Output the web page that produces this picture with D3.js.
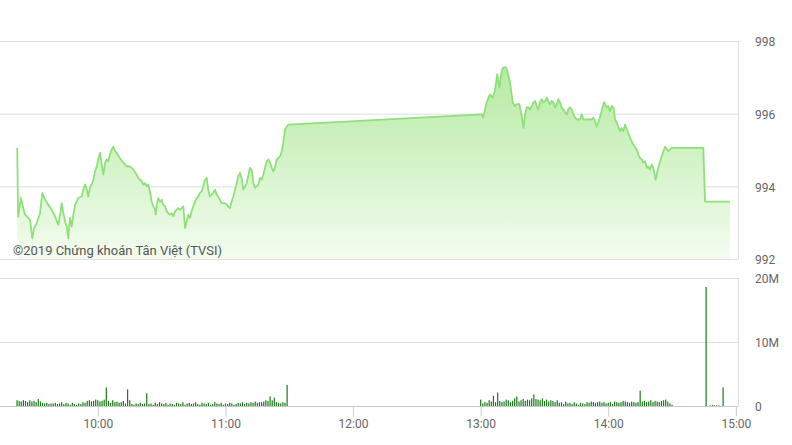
<!DOCTYPE html>
<html>
<head>
<meta charset="utf-8">
<script src="https://cdn.jsdelivr.net/npm/d3@7"></script>
<style>
  body { margin: 0; background: #fff; }
  text { font-family: Roboto, "Noto Sans", sans-serif; }
</style>
</head>
<body>
<div id="chart"></div>
<script>
// minutes after 09:00 for each price point
var priceMin = [22.1, 22.5, 23.9, 24.7, 25.8, 27.3, 28.1, 29.2, 30.0, 31.3, 32.8, 33.9, 35.2, 36.7, 38.3, 39.9,
  41.4, 42.5, 43.0, 43.8, 44.6, 45.4, 46.1, 46.9, 47.7, 48.5, 49.3, 50.1, 50.8, 52.4, 53.2, 54.0, 54.8, 55.5,
  56.3, 57.1, 57.9, 58.7, 59.5, 60.2, 61.0, 61.8, 62.6, 63.4, 64.2, 64.9, 65.7, 66.5, 67.3, 68.1, 68.9, 70.4,
  72.0, 73.6, 75.1, 76.7, 78.3, 79.0, 79.8, 80.6, 81.4, 82.2, 83.0, 83.7, 84.5, 85.3, 86.1, 86.9, 87.2, 87.7,
  88.4, 89.2, 90.0, 90.8, 91.6, 92.4, 93.1, 93.9, 94.7, 95.5, 96.3, 97.1, 97.8, 98.6, 99.4, 100.2, 101.0,
  101.8, 102.5, 103.3, 104.1, 104.9, 105.7, 106.5, 107.2, 108.0, 108.8, 109.6, 110.4, 111.2, 111.9, 112.7,
  113.5, 114.3, 115.1, 115.9, 116.6, 117.4, 118.2, 119.8, 120.6, 121.3, 122.1, 122.9, 123.7, 124.5, 125.3,
  126.1, 126.8, 127.6, 128.4, 129.2, 130.0, 130.7, 131.5, 132.3, 133.1, 133.9, 134.7, 135.5, 136.2, 137.0,
  137.8, 138.6, 139.4, 140.2, 141.0, 141.8, 142.5, 143.3, 144.1, 144.9, 145.7, 146.5, 147.2, 148.0, 149.6,
  240.5, 241.2, 242.8, 244.4, 245.7, 246.7, 247.8, 248.8, 249.9, 250.6, 251.9, 252.5, 253.8, 255.1, 256.1,
  256.9, 258.2, 259.3, 260.1, 260.9, 261.6, 262.4, 263.2, 264.0, 264.8, 265.6, 266.4, 267.1, 267.9, 268.7,
  269.5, 270.3, 271.1, 271.8, 272.6, 273.4, 274.2, 275.0, 275.8, 276.5, 277.3, 278.1, 278.9, 279.7, 280.5,
  281.2, 282.0, 282.8, 283.6, 284.4, 285.2, 286.7, 287.5, 288.3, 290.6, 292.2, 293.0, 293.8, 294.6, 296.1,
  297.1, 298.0, 299.3, 300.0, 300.8, 301.6, 302.4, 303.2, 304.0, 305.5, 306.3, 307.1, 307.9, 308.7, 310.2,
  311.8, 313.4, 314.1, 314.9, 315.7, 316.5, 317.3, 318.1, 318.8, 319.6, 320.4, 321.2, 322.3, 323.5, 325.1,
  326.7, 328.2, 329.8, 344.7, 345.5, 357.2];

var price = [995.06, 993.17, 993.68, 993.45, 993.22, 993.13, 993.08, 992.57, 992.85, 992.99, 993.26, 993.82,
  993.63, 993.49, 993.36, 993.17, 992.94, 993.31, 993.54, 993.26, 993.03, 992.89, 992.57, 993.13, 992.89,
  993.22, 993.49, 993.58, 993.68, 993.72, 993.91, 994.05, 993.91, 993.72, 993.96, 994.05, 994.18, 994.41,
  994.55, 994.74, 994.92, 994.60, 994.32, 994.65, 994.74, 994.69, 994.88, 995.01, 995.09, 994.97, 994.92,
  994.78, 994.65, 994.55, 994.55, 994.46, 994.32, 994.23, 994.18, 994.14, 994.05, 994.09, 994.00, 994.05,
  993.86, 993.58, 993.45, 993.36, 993.22, 993.49, 993.68, 993.58, 993.63, 993.49, 993.45, 993.31, 993.26,
  993.22, 993.26, 993.17, 993.31, 993.36, 993.40, 993.36, 993.40, 993.45, 992.85, 993.03, 993.22, 993.13,
  993.31, 993.45, 993.58, 993.68, 993.72, 993.82, 993.86, 994.00, 994.18, 994.23, 993.91, 993.72, 993.77,
  993.82, 993.91, 993.77, 993.72, 993.63, 993.54, 993.54, 993.49, 993.45, 993.40, 993.58, 993.72, 993.91,
  994.09, 994.28, 994.37, 994.23, 993.91, 994.00, 994.09, 994.28, 994.51, 994.46, 994.09, 993.96, 994.00,
  994.05, 994.23, 994.18, 994.32, 994.51, 994.69, 994.74, 994.65, 994.51, 994.41, 994.51, 994.74, 994.78,
  994.83, 994.97, 995.20, 995.57, 995.70,
  995.98, 995.89, 996.31, 996.53, 996.44, 996.63, 997.09, 996.72, 997.18, 997.27, 997.27, 997.18, 996.86,
  996.31, 996.21, 996.26, 996.26, 995.93, 995.61, 995.98, 996.17, 996.17, 996.12, 996.21, 996.31, 996.35,
  996.21, 996.12, 996.31, 996.40, 996.31, 996.35, 996.44, 996.35, 996.26, 996.35, 996.31, 996.17, 996.26,
  996.40, 996.31, 996.17, 996.12, 996.03, 995.98, 996.12, 996.17, 996.12, 995.98, 995.89, 995.84, 995.84,
  995.98, 995.84, 995.84, 995.84, 995.89, 995.80, 995.64, 995.90, 996.12, 996.32, 996.17, 996.21, 996.07,
  996.21, 996.17, 995.84, 995.75, 995.52, 995.61, 995.52, 995.70, 995.57, 995.34, 995.15, 995.01, 994.88,
  994.78, 994.74, 994.65, 994.69, 994.51, 994.55, 994.46, 994.60, 994.51, 994.18, 994.51, 994.83, 995.09,
  994.97, 995.06, 995.06, 993.58, 993.58];

// volume per minute (millions), morning from 09:22, afternoon from 13:00
var volAMStart = 22;
var volAM = [0.9, 0.8, 0.7, 0.9, 0.8, 0.6, 0.9, 0.7, 0.8, 0.6, 1.1, 0.7, 0.5,
  0.4, 0.5, 0.3, 0.4, 0.4, 0.5, 0.3, 0.4, 0.6, 0.3, 0.5, 0.4, 0.2, 0.5, 0.3, 0.2, 0.4, 0.3, 0.6, 0.5,
  0.8, 0.9, 0.7, 0.8, 1.0, 0.9, 0.7, 0.8, 1.0,
  2.9,
  0.8, 0.5, 0.9, 0.6, 0.7, 0.5, 0.6, 0.8, 0.4,
  2.6, 0.9,
  0.3, 0.2, 0.4, 0.3, 0.5, 0.3, 0.4,
  2.0,
  0.3, 0.4, 0.2, 0.5, 0.3, 0.6, 0.4, 0.3, 0.5, 0.2,
  0.4, 0.3, 0.2, 0.5, 0.4, 0.3, 0.6, 0.2, 0.4, 0.5,
  0.3, 0.4, 0.6, 0.3, 0.2, 0.5, 0.4, 0.3, 0.5, 0.2,
  0.3, 0.6, 0.4, 0.3, 0.5, 0.2, 0.4, 0.3, 0.5, 0.4,
  0.2, 0.3, 0.5, 0.4, 0.6, 0.3, 0.5, 0.4, 0.6, 0.5,
  0.7, 0.5, 0.6,
  0.6, 0.7, 0.9, 0.8, 1.5, 0.9, 1.3, 0.6, 0.5, 0.4, 0.6,
  0.5, 3.3];

var volPMStart = 240;
var volPM = [1.0, 0.4, 0.6, 0.5, 0.9,
  0.7, 1.6, 0.6, 2.1,
  0.8, 0.6, 0.7, 1.0, 0.9, 0.6, 0.8, 1.2, 1.5, 0.7, 0.9, 1.1, 0.8, 1.0, 0.9, 1.2,
  1.8,
  1.1, 1.0, 0.9, 1.2, 0.8, 1.0, 0.7, 0.9, 0.8, 0.6, 0.9,
  0.5, 0.6, 0.3, 0.7, 0.4, 0.5, 0.3, 0.6, 0.4, 0.2,
  0.5, 0.4, 0.3, 0.6, 0.5, 0.7, 0.6, 0.5, 0.6, 0.7,
  0.5, 0.6, 0.4, 0.5, 0.6, 0.3, 0.7, 0.6, 0.5, 0.6,
  0.8, 0.7, 0.6, 0.5, 0.7, 0.6, 0.5, 0.6,
  2.4,
  0.7, 0.8, 0.6, 0.7, 0.9, 0.6, 0.8, 0.7, 0.6, 0.8, 0.9, 1.0, 0.7, 0.4, 0.2];

// closing auction and after
var volATCMin = [346, 348, 349, 350, 351, 352, 354];
var volATC = [18.6, 0.1, 0.15, 0.1, 0.1, 0.1, 2.9];

var priceTicks = [992, 994, 996, 998];
var volTicks = [0, 10, 20];
var volTickLabels = ["0", "10M", "20M"];
var timeTicks = ["10:00", "11:00", "12:00", "13:00", "14:00", "15:00"];
var copyright = "©2019 Chứng khoán Tân Việt (TVSI)";

var W = 792, H = 445;
var plotRight = 738;

var svg = d3.select("#chart")
    .append("svg")
    .attr("width", W)
    .attr("height", H);

var parseTime = d3.timeParse("%H:%M");
var base = parseTime("09:00");
function toDate(m) { return new Date(base.getTime() + m * 60000); }

var x = d3.scaleTime()
    .domain([toDate(14), toDate(361)])
    .range([0, plotRight]);

var yP = d3.scaleLinear().domain([992, 998]).range([259, 41]);
var yV = d3.scaleLinear().domain([0, 20]).range([406, 278]);

var gridColor = "#dedede";
var labelColor = "#666";

// ---------- price panel
svg.append("g").selectAll("line")
    .data(priceTicks)
    .enter().append("line")
    .attr("x1", 0).attr("x2", plotRight)
    .attr("y1", function (d) { return yP(d) + 0.5; })
    .attr("y2", function (d) { return yP(d) + 0.5; })
    .attr("stroke", gridColor);

svg.append("line")
    .attr("x1", plotRight + 0.5).attr("x2", plotRight + 0.5)
    .attr("y1", yP(998)).attr("y2", yP(992))
    .attr("stroke", gridColor);

var grad = svg.append("defs").append("linearGradient")
    .attr("id", "areaGrad")
    .attr("gradientUnits", "userSpaceOnUse")
    .attr("x1", 0).attr("x2", 0)
    .attr("y1", yP(998)).attr("y2", yP(992));
grad.append("stop").attr("offset", "0%").attr("stop-color", "#aee898");
grad.append("stop").attr("offset", "100%").attr("stop-color", "#f3fcf0");

var pts = priceMin.map(function (m, i) { return { date: toDate(m), p: price[i] }; });

svg.append("path")
    .datum(pts)
    .attr("fill", "url(#areaGrad)")
    .attr("d", d3.area()
        .x(function (d) { return x(d.date); })
        .y0(yP(992))
        .y1(function (d) { return yP(d.p); }));

svg.append("path")
    .datum(pts)
    .attr("fill", "none")
    .attr("stroke", "#8fe07b")
    .attr("stroke-width", 1.8)
    .attr("stroke-linejoin", "round")
    .attr("d", d3.line()
        .x(function (d) { return x(d.date); })
        .y(function (d) { return yP(d.p); }));

svg.append("g").selectAll("text")
    .data(priceTicks)
    .enter().append("text")
    .attr("x", 755)
    .attr("y", function (d) { return yP(d) + 1; })
    .attr("dy", "0.35em")
    .attr("font-size", "12px")
    .attr("fill", labelColor)
    .text(function (d) { return d; });

svg.append("text")
    .attr("x", 13)
    .attr("y", 255)
    .attr("font-size", "13px")
    .attr("fill", "#555")
    .text(copyright);

// ---------- volume panel
svg.append("g").selectAll("line")
    .data(volTicks)
    .enter().append("line")
    .attr("x1", 0).attr("x2", plotRight)
    .attr("y1", function (d) { return yV(d) + 0.5; })
    .attr("y2", function (d) { return yV(d) + 0.5; })
    .attr("stroke", function (d) { return d === 0 ? "#c8c8c8" : gridColor; });

svg.append("line")
    .attr("x1", plotRight + 0.5).attr("x2", plotRight + 0.5)
    .attr("y1", yV(20)).attr("y2", yV(0))
    .attr("stroke", gridColor);

var vols = [];
volAM.forEach(function (v, i) { vols.push({ date: toDate(volAMStart + i), v: v }); });
volPM.forEach(function (v, i) { vols.push({ date: toDate(volPMStart + i), v: v }); });
volATC.forEach(function (v, i) { vols.push({ date: toDate(volATCMin[i]), v: v }); });

svg.append("g").selectAll("rect")
    .data(vols)
    .enter().append("rect")
    .attr("x", function (d) { return x(d.date) - 0.6; })
    .attr("width", 1.2)
    .attr("y", function (d) { return yV(d.v); })
    .attr("height", function (d) { return yV(0) - yV(d.v); })
    .attr("fill", "#1d7a1d");

svg.append("g").selectAll("text")
    .data(volTicks)
    .enter().append("text")
    .attr("x", 755)
    .attr("y", function (d) { return yV(d) + 1; })
    .attr("dy", "0.35em")
    .attr("font-size", "12px")
    .attr("fill", labelColor)
    .text(function (d, i) { return volTickLabels[i]; });

// time axis
var xAxis = svg.append("g")
    .attr("transform", "translate(0," + (yV(0) + 0.5) + ")")
    .call(d3.axisBottom(x)
        .tickValues(timeTicks.map(parseTime))
        .tickSize(10)
        .tickFormat(d3.timeFormat("%H:%M")));
xAxis.select(".domain").remove();
xAxis.selectAll(".tick line").attr("stroke", "#cccccc");
xAxis.selectAll(".tick text")
    .attr("fill", labelColor)
    .attr("font-size", "12px")
    .attr("font-family", "Roboto, sans-serif")
    .attr("y", 13);
</script>
</body>
</html>
